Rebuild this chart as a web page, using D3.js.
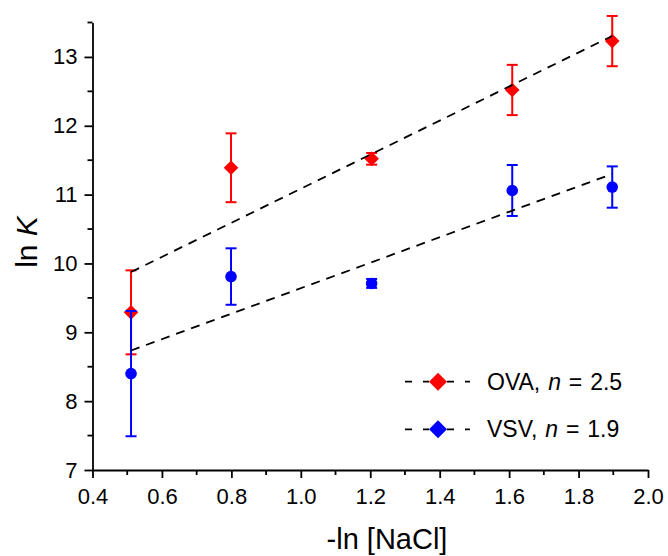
<!DOCTYPE html>
<html>
<head>
<meta charset="utf-8">
<script src="https://cdn.jsdelivr.net/npm/d3@7"></script>
<style>
  html, body { margin: 0; padding: 0; background: #fff; }
  svg { display: block; font-family: "Liberation Sans", Arial, sans-serif; }
</style>
</head>
<body>
<svg id="chart" width="668" height="556"></svg>
<script>
// -ln[NaCl] for 0.60, 0.45, 0.30, 0.20, 0.15 M
const xValues = [0.511, 0.799, 1.204, 1.609, 1.897];

// ln K with symmetric standard errors
const ovaValues = [9.29, 11.39, 11.52, 12.52, 13.23];
const ovaErrors = [0.61, 0.50, 0.085, 0.365, 0.365];
const vsvValues = [8.40, 9.81, 9.71, 11.06, 11.11];
const vsvErrors = [0.91, 0.41, 0.065, 0.37, 0.30];

const seriesNames = ["OVA", "VSV"];
const slopeLabels = ["2.5", "1.9"];
const seriesColors = ["#ff0000", "#0000ff"];

const xTicks = [0.4, 0.6, 0.8, 1.0, 1.2, 1.4, 1.6, 1.8, 2.0];
const yTicks = [7, 8, 9, 10, 11, 12, 13];

const svg = d3.select("#chart");

const x = d3.scaleLinear().domain([0.4, 2.0]).range([92.5, 648]);
const y = d3.scaleLinear().domain([7, 13.5]).range([470, 22.5]);

const axisStroke = 1.8;

// x axis with major and minor ticks
const gx = svg.append("g").attr("transform", `translate(0,${y(7)})`);
gx.call(d3.axisBottom(x).tickValues(xTicks).tickFormat(d3.format(".1f"))
  .tickSize(8).tickSizeOuter(0).tickPadding(10));
const xMinor = d3.range(0.5, 2.0, 0.2);
gx.selectAll(".minor").data(xMinor).join("line").attr("class", "minor")
  .attr("x1", d => x(d)).attr("x2", d => x(d)).attr("y1", 0).attr("y2", 5);

// y axis with major and minor ticks
const gy = svg.append("g").attr("transform", `translate(${x(0.4)},0)`);
gy.call(d3.axisLeft(y).tickValues(yTicks).tickFormat(d3.format("d"))
  .tickSize(8).tickSizeOuter(0).tickPadding(7));
const yMinor = d3.range(7.5, 13.6, 1);
gy.selectAll(".minor").data(yMinor).join("line").attr("class", "minor")
  .attr("y1", d => y(d)).attr("y2", d => y(d)).attr("x1", 0).attr("x2", -5);

[gx, gy].forEach(g => {
  g.selectAll("path.domain").attr("stroke", "#000").attr("stroke-width", axisStroke);
  g.selectAll("line").attr("stroke", "#000").attr("stroke-width", axisStroke);
  g.selectAll("text").attr("font-size", 22).attr("fill", "#000")
    .attr("font-family", "'Liberation Sans', Arial, sans-serif");
});

// axis titles
svg.append("text")
  .attr("x", 387).attr("y", 549)
  .attr("text-anchor", "middle").attr("font-size", 29)
  .text("-ln [NaCl]");

const yTitle = svg.append("text")
  .attr("transform", "translate(37,242) rotate(-90)")
  .attr("text-anchor", "middle").attr("font-size", 30);
yTitle.append("tspan").text("ln ");
yTitle.append("tspan").attr("font-style", "italic").text("K");

const diamond = (cx, cy, r) =>
  `M${cx},${cy - r}L${cx + r},${cy}L${cx},${cy + r}L${cx - r},${cy}Z`;

function drawSeries(values, errors, color, shape) {
  const g = svg.append("g");
  const pts = xValues.map((xv, i) => ({ x: xv, y: values[i], e: errors[i] }));
  const cap = 5.5;
  pts.forEach(p => {
    const cx = x(p.x), top = y(p.y + p.e), bot = y(p.y - p.e);
    g.append("line").attr("x1", cx).attr("x2", cx).attr("y1", top).attr("y2", bot)
      .attr("stroke", color).attr("stroke-width", 2);
    [top, bot].forEach(yy => g.append("line")
      .attr("x1", cx - cap).attr("x2", cx + cap).attr("y1", yy).attr("y2", yy)
      .attr("stroke", color).attr("stroke-width", 2));
  });
  pts.forEach(p => {
    if (shape === "diamond") {
      g.append("path").attr("d", diamond(x(p.x), y(p.y), 7.3)).attr("fill", color);
    } else {
      g.append("circle").attr("cx", x(p.x)).attr("cy", y(p.y)).attr("r", 5.8).attr("fill", color);
    }
  });
}

drawSeries(ovaValues, ovaErrors, seriesColors[0], "diamond");
drawSeries(vsvValues, vsvErrors, seriesColors[1], "circle");

// least-squares fit lines across the measured range
function linearFit(xs, ys) {
  const mx = d3.mean(xs), my = d3.mean(ys);
  const sxy = d3.sum(xs, (v, i) => (v - mx) * (ys[i] - my));
  const sxx = d3.sum(xs, v => (v - mx) * (v - mx));
  const slope = sxy / sxx;
  return { slope, intercept: my - slope * mx };
}

[ovaValues, vsvValues].forEach(vals => {
  const f = linearFit(xValues, vals);
  const x0 = d3.min(xValues), x1 = d3.max(xValues);
  svg.append("line")
    .attr("x1", x(x0)).attr("y1", y(f.intercept + f.slope * x0))
    .attr("x2", x(x1)).attr("y2", y(f.intercept + f.slope * x1))
    .attr("stroke", "#000").attr("stroke-width", 1.8)
    .attr("stroke-dasharray", "9,7");
});

// legend
const legendRows = [381.7, 429.3];
seriesNames.forEach((name, i) => {
  const ly = legendRows[i];
  const g = svg.append("g");
  g.append("line").attr("x1", 405).attr("x2", 429).attr("y1", ly).attr("y2", ly)
    .attr("stroke", "#000").attr("stroke-width", 1.8).attr("stroke-dasharray", "7,11");
  g.append("line").attr("x1", 447).attr("x2", 470).attr("y1", ly).attr("y2", ly)
    .attr("stroke", "#000").attr("stroke-width", 1.8).attr("stroke-dasharray", "7,11");
  g.append("path").attr("d", diamond(438, ly, 9)).attr("fill", seriesColors[i]);
  const t = g.append("text").attr("x", 487).attr("y", ly + 8)
    .attr("font-size", 23).attr("word-spacing", 1.5);
  t.append("tspan").text(name + ", ");
  t.append("tspan").attr("font-style", "italic").text("n");
  t.append("tspan").text(" = " + slopeLabels[i]);
});
</script>
</body>
</html>
